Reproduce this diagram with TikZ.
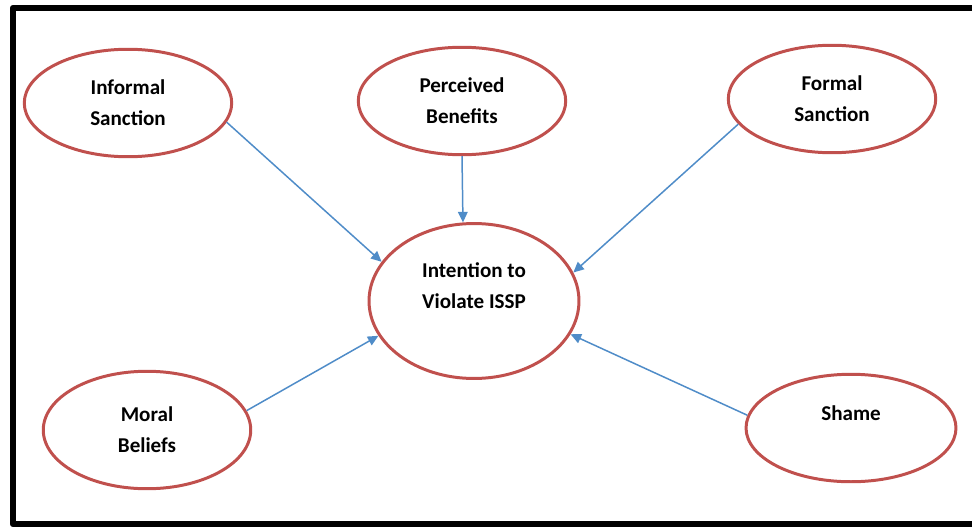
\documentclass[tikz,border=0pt]{standalone}
\usepackage{fontspec}
\setmainfont{Carlito}
\usetikzlibrary{shapes.geometric,arrows.meta}
\definecolor{ovalred}{RGB}{192,80,77}
\definecolor{linkblue}{RGB}{79,140,200}
\begin{document}
\begin{tikzpicture}[x=0.02cm, y=-0.02cm, line join=round,
  factor/.style={ellipse, draw=ovalred, line width=1.7pt, inner sep=0pt,
    minimum width=4.15cm, minimum height=2.15cm, align=center,
    font=\bfseries\fontsize{12}{17.5}\selectfont},
  link/.style={linkblue, line width=0.85pt, -{Triangle[length=6pt,width=5.5pt]}}]
\useasboundingbox (0,0) rectangle (972,527);
%\draw[help lines] (0,0) grid[step=1cm] (972,527);
\draw [line width=0.13cm] (1000,8) -| (13,524) -- (1000,524);

\node [factor] (informal) at (128,103) {Informal\\Sanction};
\node [factor] (benefits) at (462,101) {Perceived\\Benefits};
\node [factor] (formal) at (832,99) {Formal\\Sanction};
\node [factor, minimum width=4.2cm, minimum height=3.1cm] (intention) at (474,301)
  {Intention to\\Violate ISSP\\\mbox{}};
\node [factor, minimum height=2.35cm] (moral) at (147,430) {Moral\\Beliefs};
\node [factor, minimum width=4.2cm] (shame) at (851,428) {Shame\\\mbox{}};

\foreach \from/\to in {informal.-11/157, benefits.south/98, formal.-165/16,
    moral.11/-160, shame.173/-19}
  \draw [link] (\from) -- (intention.\to);

\end{tikzpicture}
\end{document}
